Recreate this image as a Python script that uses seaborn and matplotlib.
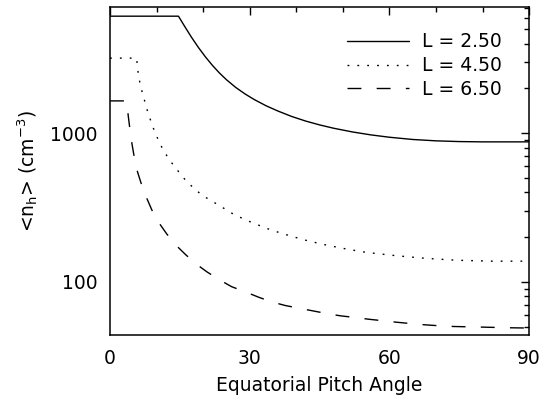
import numpy as np
import pandas as pd
import seaborn as sns
from matplotlib.figure import Figure
from matplotlib.ticker import FixedLocator, LogLocator, NullFormatter

# values
angle_25 = [0, 14.7, 16.0, 17.5, 19.0, 20.5, 22.0, 23.5, 25.0, 27.0, 29.0, 31.0, 33.5,
            36.0, 39.0, 42.0, 45.0, 48.0, 52.0, 56.0, 60.0, 65.0, 70.0, 75.0, 80.0, 85.0, 90]
dens_25 = [6124, 6124, 5248, 4416, 3767, 3258, 2858, 2541, 2291, 2032, 1837, 1683, 1531,
           1413, 1297, 1208, 1138, 1081, 1021, 975, 940, 908, 889, 879, 875, 875, 875]

angle_45 = [0, 5.7, 6.1, 6.6, 7.2, 8.2, 9.7, 11.5, 13.6, 16.5, 19.7, 23.3, 26.8, 30.6,
            34.5, 38.7, 42.5, 46.5, 51.0, 55.1, 61.6, 68.0, 74.5, 82.0, 90]
dens_45 = [3200, 3200, 2450, 2050, 1755, 1355, 1000, 760, 610, 471, 384, 329, 282, 250,
           224, 204, 189, 177, 166, 158, 150, 144, 140, 138, 138]

angle_65 = [0, 3.6, 3.9, 4.3, 4.7, 5.2, 5.9, 6.7, 7.9, 9.0, 10.5, 12.2, 14.3, 16.3, 18.8,
            20.8, 23.6, 26.1, 29.4, 31.9, 34.7, 37.6, 40.8, 43.7, 46.7, 49.5, 52.6, 55.5,
            58.7, 61.6, 64.4, 67.7, 70.5, 73.7, 80.0, 86.0, 90]
dens_65 = [1650, 1650, 1320, 1047, 853, 693, 550, 459, 365, 304, 250, 210, 175, 152, 130,
           117, 103, 93, 85, 79, 73.5, 69.5, 66.4, 63.8, 61.2, 59.2, 57.7, 56.2, 54.8, 53.6,
           52.6, 51.5, 50.8, 50.2, 49.7, 49.2, 49]

series = [('L = 2.50', angle_25, dens_25, '-'),
          ('L = 4.50', angle_45, dens_45, (0, (1.3, 5.8))),
          ('L = 6.50', angle_65, dens_65, (0, (10, 11)))]

fs = 13.5

sns.set_style('white', {'text.color': 'black', 'axes.labelcolor': 'black',
                        'axes.edgecolor': 'black', 'xtick.color': 'black',
                        'ytick.color': 'black'})
fig = Figure(figsize=(5.54, 4.01), dpi=100)
ax = fig.add_subplot(111)
fig.subplots_adjust(left=0.1986, right=0.955, bottom=0.1646, top=0.983)

for label, x, y, ls in series:
    df = pd.DataFrame({'angle': x, 'dens': y})
    sns.lineplot(data=df, x='angle', y='dens', ax=ax, color='black', lw=1.0,
                 linestyle=ls, label=label, estimator=None)

ax.set_yscale('log')
ax.set_xlim(0, 90)
ax.set_ylim(44, 7080)
ax.xaxis.set_major_locator(FixedLocator([0, 30, 60, 90]))
ax.xaxis.set_minor_locator(FixedLocator(np.arange(0, 91, 10)))
ax.yaxis.set_major_locator(FixedLocator([100, 1000]))
ax.yaxis.set_minor_locator(LogLocator(base=10, subs=np.arange(2, 10)))
ax.yaxis.set_minor_formatter(NullFormatter())
ax.set_yticklabels(['100', '1000'])

for s in ax.spines.values():
    s.set_linewidth(1.1)
    s.set_color('black')
ax.tick_params(which='both', direction='in', top=True, right=True, color='black',
               width=1.0, labelsize=fs, labelcolor='black')
ax.tick_params(which='major', length=6, pad=9)
ax.tick_params(axis='x', which='major', pad=10)
ax.tick_params(which='minor', length=3.5)

ax.set_xlabel('Equatorial Pitch Angle', fontsize=fs, labelpad=6, color='black')
ax.set_ylabel(r'<n$_\mathregular{h}$> (cm$^\mathregular{-3}$)', fontsize=fs, labelpad=7,
              color='black')

leg = ax.legend(loc='upper right', bbox_to_anchor=(0.936, 0.922), frameon=False,
                fontsize=fs, handlelength=3.3, handletextpad=0.7, labelspacing=0.25,
                borderpad=0, borderaxespad=0)
for t in leg.get_texts():
    t.set_color('black')

fig.savefig('out.png')
